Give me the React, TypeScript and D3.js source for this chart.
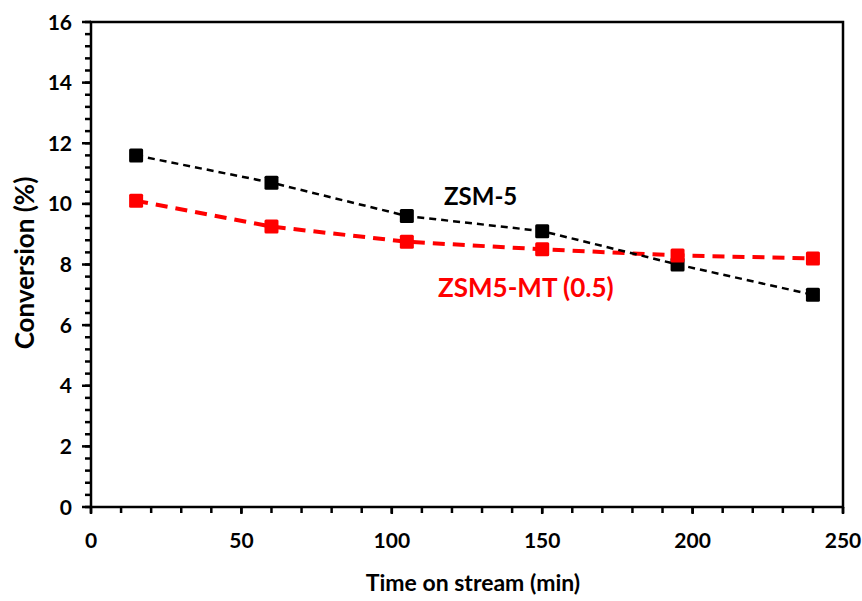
import React from "react";
import * as d3 from "d3";

const times = [15, 60, 105, 150, 195, 240];
const zsm5 = [11.6, 10.7, 9.6, 9.1, 8.0, 7.0];
const zsm5mt = [10.1, 9.25, 8.75, 8.5, 8.3, 8.2];
const xTicks = [0, 50, 100, 150, 200, 250];
const yTicks = [0, 2, 4, 6, 8, 10, 12, 14, 16];

const W = 862;
const H = 601;
const margin = { top: 22, right: 19, bottom: 94, left: 91 };
const font = "Lato, 'Open Sans', sans-serif";

export default function App() {
  const x = d3.scaleLinear().domain([0, 250]).range([margin.left, W - margin.right]);
  const y = d3.scaleLinear().domain([0, 16]).range([H - margin.bottom, margin.top]);

  const line = d3
    .line<[number, number]>()
    .x((d) => x(d[0]))
    .y((d) => y(d[1]));

  const blackPts = times.map((t, i) => [t, zsm5[i]] as [number, number]);
  const redPts = times.map((t, i) => [t, zsm5mt[i]] as [number, number]);

  const xMinor = d3.range(0, 251, 10);
  const yMinor = d3.range(0, 16.01, 0.4);
  const x0 = x(0);
  const yBase = y(0);

  return (
    <svg width={W} height={H} style={{ position: "absolute", left: 0, top: 0, background: "#fff" }}>
      {/* frame */}
      <rect
        x={x(0)}
        y={y(16)}
        width={x(250) - x(0)}
        height={y(0) - y(16)}
        fill="none"
        stroke="#000"
        strokeWidth={2.5}
      />
      {/* y ticks */}
      {yMinor.map((v, i) => (
        <line key={"ym" + i} x1={x0 - 6} x2={x0} y1={y(v)} y2={y(v)} stroke="#000" strokeWidth={2.5} />
      ))}
      {yTicks.map((v) => (
        <g key={"y" + v}>
          <line x1={x0 - 9} x2={x0} y1={y(v)} y2={y(v)} stroke="#000" strokeWidth={2.5} />
          <text
            x={x0 - 19}
            y={y(v) + 7.5}
            textAnchor="end"
            fontFamily={font}
            fontWeight="bold"
            fontSize={21}
          >
            {v}
          </text>
        </g>
      ))}
      {/* x ticks */}
      {xMinor.map((v) => (
        <line key={"xm" + v} x1={x(v)} x2={x(v)} y1={yBase} y2={yBase + 6} stroke="#000" strokeWidth={2.5} />
      ))}
      {xTicks.map((v) => (
        <g key={"x" + v}>
          <line x1={x(v)} x2={x(v)} y1={yBase} y2={yBase + 7} stroke="#000" strokeWidth={2.5} />
          <text
            x={x(v)}
            y={yBase + 41}
            textAnchor="middle"
            fontFamily={font}
            fontWeight="bold"
            fontSize={21}
          >
            {v}
          </text>
        </g>
      ))}
      {/* axis titles */}
      <text
        x={473}
        y={591}
        textAnchor="middle"
        fontFamily={font}
        fontWeight="bold"
        fontSize={23}
      >
        Time on stream (min)
      </text>
      <text
        transform={`translate(34,263) rotate(-90)`}
        textAnchor="middle"
        fontFamily={font}
        fontWeight="bold"
        fontSize={26}
      >
        Conversion (%)
      </text>
      {/* series */}
      <path d={line(redPts) || ""} fill="none" stroke="#ff0000" strokeWidth={4} strokeDasharray="12 8" />
      <path d={line(blackPts) || ""} fill="none" stroke="#000" strokeWidth={2.5} strokeDasharray="7 5" />
      {blackPts.map((d, i) => (
        <rect key={"b" + i} x={x(d[0]) - 7} y={y(d[1]) - 7} width={14} height={14} rx={1.5} fill="#000" />
      ))}
      {redPts.map((d, i) => (
        <rect key={"r" + i} x={x(d[0]) - 7} y={y(d[1]) - 7} width={14} height={14} rx={1.5} fill="#ff0000" />
      ))}
      {/* labels */}
      <text x={444} y={205} fontFamily={font} fontWeight="bold" fontSize={24} fill="#000">
        ZSM-5
      </text>
      <text x={438} y={297} fontFamily={font} fontWeight="bold" fontSize={26} fill="#ff0000">
        ZSM5-MT (0.5)
      </text>
    </svg>
  );
}
